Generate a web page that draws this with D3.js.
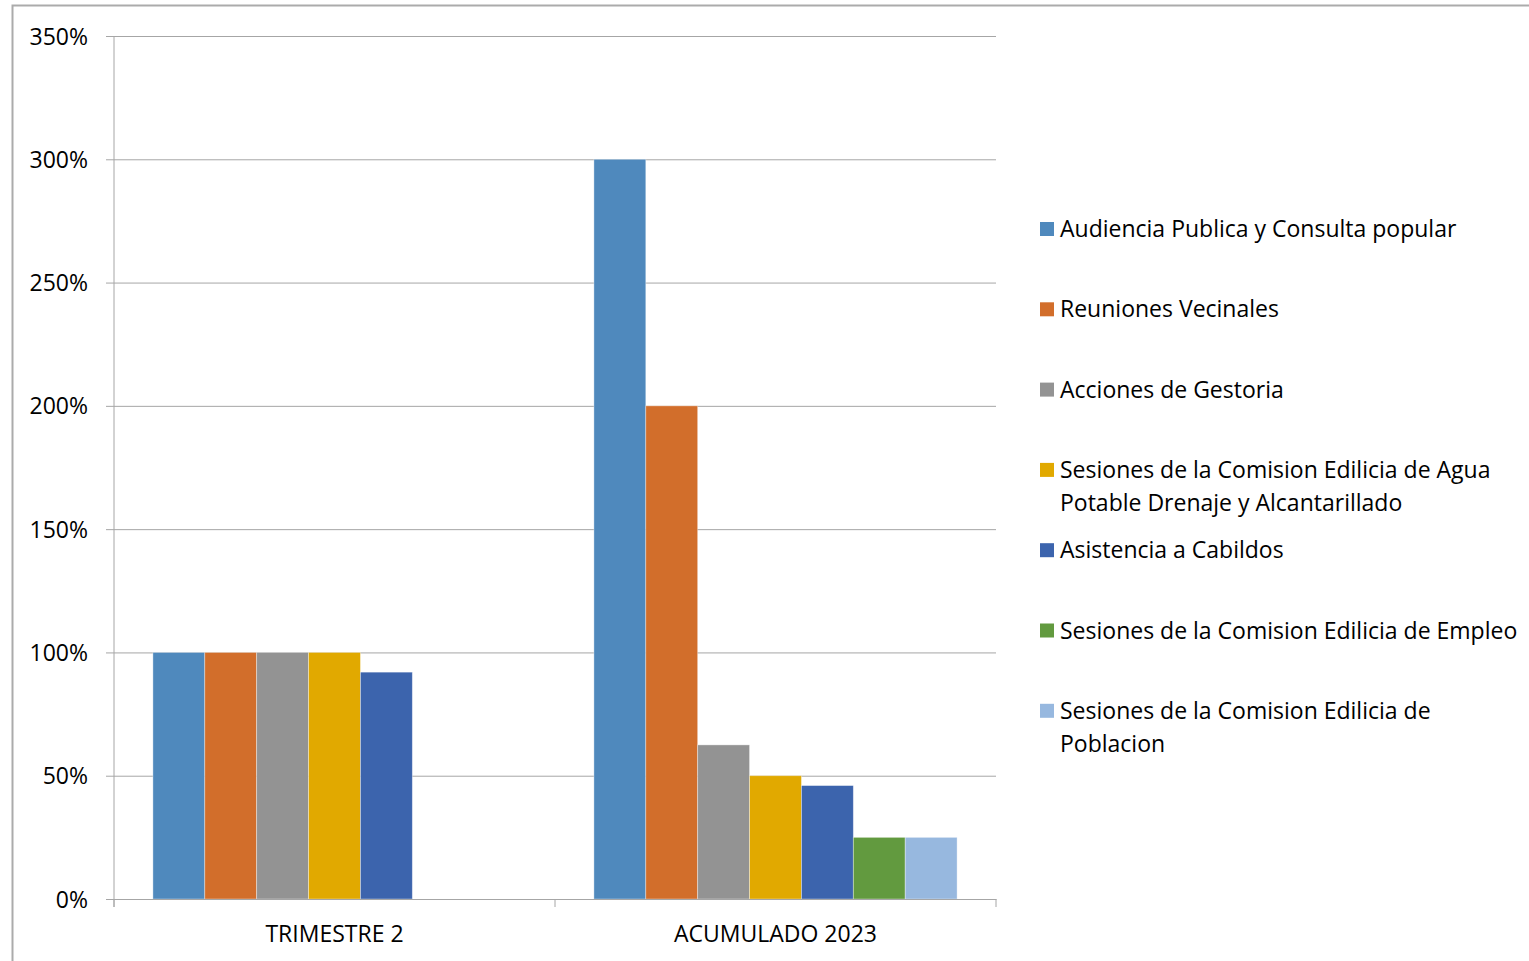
<!DOCTYPE html>
<html lang="es">
<meta charset="utf-8">
<style>
    html, body {
        margin: 0;
        padding: 0;
        background: #fff;
    }
    svg text {
        font-family: "Open Sans", sans-serif;
        fill: #000;
    }
</style>
<body>
<svg id="chart" width="1529" height="961"></svg>
<script src="https://cdn.jsdelivr.net/npm/d3@7"></script>
<script>
    // data
    var categories = ["TRIMESTRE 2", "ACUMULADO 2023"];
    var series = [
        "Audiencia Publica y Consulta popular",
        "Reuniones Vecinales",
        "Acciones de Gestoria",
        "Sesiones de la Comision Edilicia de Agua Potable Drenaje y Alcantarillado",
        "Asistencia a Cabildos",
        "Sesiones de la Comision Edilicia de Empleo",
        "Sesiones de la Comision Edilicia de Poblacion"
    ];
    var trimestre2 = [1.00, 1.00, 1.00, 1.00, 0.92, null, null];
    var acumulado = [3.00, 2.00, 0.625, 0.50, 0.46, 0.25, 0.25];
    var yTicks = [0, 0.5, 1, 1.5, 2, 2.5, 3, 3.5];
    var colors = ["#4f89bd", "#d26e2b", "#939393", "#e1a900", "#3c64ad", "#629a3f", "#97b8df"];

    var values = [trimestre2, acumulado];
    var fontSize = 23;

    var svg = d3.select("#chart"),
        margin = {top: 36, right: 533, bottom: 62, left: 114},
        width = +svg.attr("width") - margin.left - margin.right,
        height = +svg.attr("height") - margin.top - margin.bottom;

    // outer chart frame
    svg.append("rect")
        .attr("x", 12.5).attr("y", 5.5)
        .attr("width", 1600).attr("height", 1000)
        .attr("fill", "none")
        .attr("stroke", "#ababab")
        .attr("stroke-width", 2);

    var g = svg.append("g").attr("transform", "translate(" + margin.left + "," + margin.top + ")");

    var x = d3.scaleBand()
        .domain(categories)
        .range([0, width]);

    // Excel style gap width 150%
    var inner = x.bandwidth() / (series.length + 1.5);
    var x1 = d3.scaleBand()
        .domain(d3.range(series.length))
        .range([inner * 0.75, x.bandwidth() - inner * 0.75]);

    var y = d3.scaleLinear()
        .domain([0, 3.5])
        .range([height, 0]);

    // gridlines + y axis
    var yAxis = d3.axisLeft(y)
        .tickValues(yTicks)
        .tickFormat(d3.format(".0%"))
        .tickSize(-width)
        .tickSizeOuter(0)
        .tickPadding(26);

    g.append("g")
        .attr("class", "y-axis")
        .call(yAxis)
        .call(function (a) {
            a.select(".domain").remove();
            a.selectAll(".tick line")
                .attr("stroke", "#a6a6a6")
                .attr("x1", -8);
            a.selectAll(".tick text")
                .attr("font-size", fontSize)
                .attr("font-family", "'Open Sans', sans-serif")
                .attr("fill", "#000")
                .attr("dy", "0.35em");
        });

    // bars
    var groups = g.selectAll(".grp")
        .data(categories)
        .enter().append("g")
        .attr("class", "grp")
        .attr("transform", function (d) { return "translate(" + x(d) + ",0)"; });

    groups.selectAll("rect")
        .data(function (d, i) {
            return values[i].map(function (v, k) { return {k: k, v: v}; }).filter(function (d) { return d.v != null; });
        })
        .enter().append("rect")
        .attr("x", function (d) { return x1(d.k); })
        .attr("width", x1.bandwidth())
        .attr("y", function (d) { return y(d.v); })
        .attr("height", function (d) { return y(0) - y(d.v); })
        .attr("fill", function (d) { return colors[d.k]; })
        .attr("stroke", "rgba(255,255,255,0.45)")
        .attr("stroke-width", 0.8);

    // vertical value axis line
    g.append("line")
        .attr("x1", 0).attr("x2", 0)
        .attr("y1", 0).attr("y2", height + 8)
        .attr("stroke", "#a6a6a6");

    // x axis
    var xAxis = d3.axisBottom(x).tickSize(0).tickPadding(27);
    g.append("g")
        .attr("transform", "translate(0," + height + ")")
        .call(xAxis)
        .call(function (a) {
            a.select(".domain").attr("stroke", "#a6a6a6");
            a.selectAll(".tick text")
                .attr("font-size", fontSize)
                .attr("font-family", "'Open Sans', sans-serif")
                .attr("fill", "#000");
        });

    // category boundary ticks
    g.append("g").selectAll("line")
        .data(d3.range(categories.length + 1))
        .enter().append("line")
        .attr("x1", function (i) { return i * x.step(); })
        .attr("x2", function (i) { return i * x.step(); })
        .attr("y1", height)
        .attr("y2", height + 8)
        .attr("stroke", "#a6a6a6");

    // legend
    var legend = svg.append("g").attr("transform", "translate(1040,229)");
    var rowStep = 80.3, lineH = 33, wrapW = 470;

    series.forEach(function (name, i) {
        var row = legend.append("g").attr("transform", "translate(0," + (i * rowStep) + ")");
        row.append("rect")
            .attr("x", 0).attr("y", -7)
            .attr("width", 14).attr("height", 14)
            .attr("fill", colors[i]);
        var t = row.append("text")
            .attr("x", 20)
            .attr("font-size", fontSize);
        // wrap long names
        var words = name.split(" "), line = [];
        var ts = t.append("tspan").attr("x", 20).attr("dy", "0.35em");
        words.forEach(function (w) {
            line.push(w);
            ts.text(line.join(" "));
            if (ts.node().getComputedTextLength() > wrapW && line.length > 1) {
                line.pop();
                ts.text(line.join(" "));
                line = [w];
                ts = t.append("tspan").attr("x", 20).attr("dy", lineH).text(w);
            }
        });
    });
</script>
</body>
</html>
